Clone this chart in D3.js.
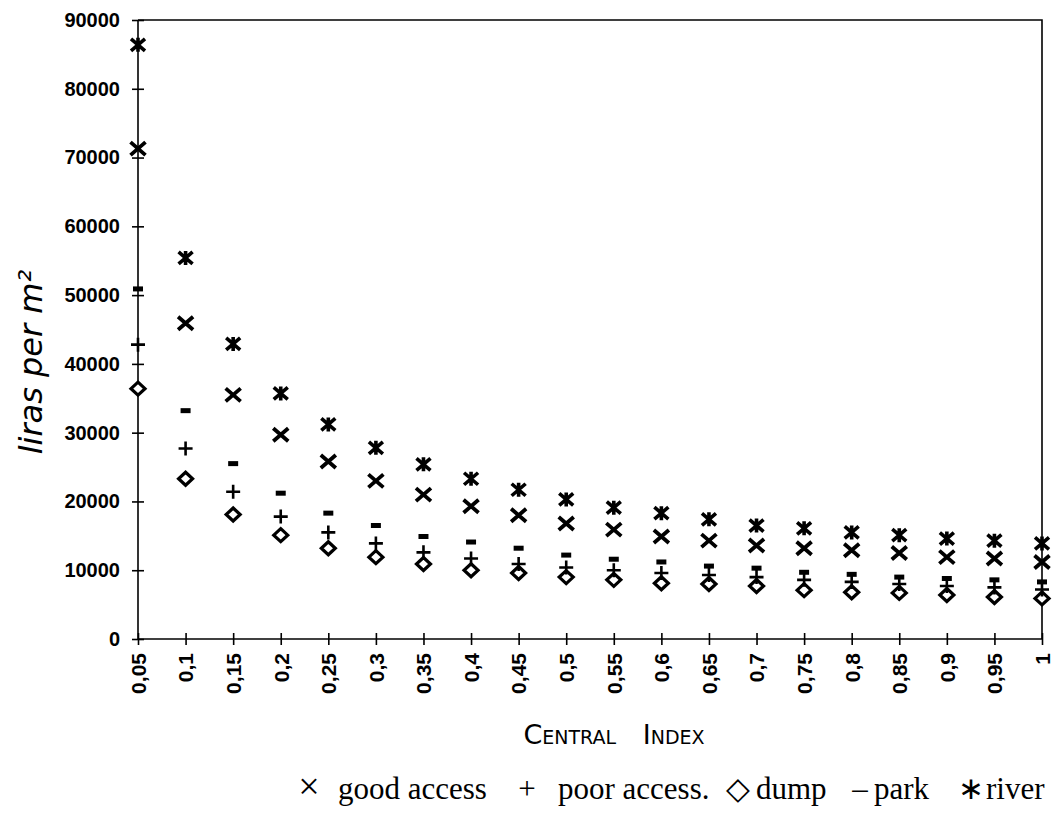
<!DOCTYPE html>
<html>
<head>
<meta charset="utf-8">
<script src="https://cdn.jsdelivr.net/npm/d3@7"></script>
<style>
  body { margin: 0; background: #fff; }
  svg { display: block; }
  .axis text { font-family: "Liberation Sans", Arial, sans-serif; font-weight: bold; font-size: 20px; fill: #000; }
  .axis path, .axis line { stroke: #000; stroke-width: 1.6; }
  .legend text { font-family: "Liberation Serif", "Times New Roman", serif; font-size: 31px; fill: #000; }
</style>
</head>
<body>
<div id="chart"></div>
<script>
// central index categories (x axis)
var categories = ["0,05", "0,1", "0,15", "0,2", "0,25", "0,3", "0,35", "0,4", "0,45", "0,5",
                  "0,55", "0,6", "0,65", "0,7", "0,75", "0,8", "0,85", "0,9", "0,95", "1"];

// liras per m2, one value per category
var goodAccess = [71300, 45900, 35500, 29700, 25800, 23000, 21000, 19300, 18000, 16800,
                  15900, 14900, 14300, 13600, 13200, 12900, 12500, 11900, 11700, 11200];
var poorAccess = [42800, 27700, 21400, 17800, 15500, 13900, 12600, 11700, 10900, 10400,
                  10000, 9600, 9300, 9000, 8600, 8300, 8000, 7700, 7500, 7200];
var dump       = [36400, 23300, 18100, 15100, 13200, 11900, 10900, 10000, 9600, 9000,
                  8600, 8100, 8000, 7700, 7100, 6800, 6700, 6400, 6100, 5900];
var park       = [50900, 33200, 25500, 21200, 18300, 16500, 14900, 14100, 13200, 12200,
                  11600, 11200, 10600, 10300, 9700, 9400, 9000, 8800, 8600, 8300];
var river      = [86400, 55400, 42900, 35700, 31200, 27800, 25400, 23300, 21700, 20300,
                  19100, 18300, 17400, 16500, 16100, 15500, 15100, 14600, 14300, 13900];

var yTicks = [0, 10000, 20000, 30000, 40000, 50000, 60000, 70000, 80000, 90000];

var legendKeys   = ["\u00D7", "+", "\u25C7", "\u2013", "\u2217"];
var legendLabels = ["good access", "poor access.", "dump", "park", "river"];

var width = 1056, height = 816;
var margin = { top: 20, right: 14, bottom: 177, left: 138 };

var svg = d3.select('#chart').append('svg')
    .attr('width', width)
    .attr('height', height);

var x = d3.scalePoint()
    .domain(categories)
    .range([margin.left, width - margin.right]);

var y = d3.scaleLinear()
    .domain([0, 90000])
    .range([height - margin.bottom, margin.top]);

// frame (top and right edges)
svg.append('path')
    .attr('d', `M${x.range()[0]},${y(90000)}H${x.range()[1]}V${y(0)}`)
    .attr('fill', 'none')
    .attr('stroke', '#000')
    .attr('stroke-width', 1.6);

// y axis, ticks cross the line
var yAxis = svg.append('g')
    .attr('class', 'axis')
    .attr('transform', `translate(${margin.left},0)`)
    .call(d3.axisLeft(y).tickValues(yTicks).tickFormat(d3.format('d')).tickSize(6).tickPadding(12));
yAxis.selectAll('.tick line').attr('x2', 6).attr('x1', -6);
yAxis.select('.domain').attr('d', `M0,${y(0)}V${y(90000)}`);

// x axis, labels rotated
var xAxis = svg.append('g')
    .attr('class', 'axis')
    .attr('transform', `translate(0,${y(0)})`)
    .call(d3.axisBottom(x).tickSize(6));
xAxis.selectAll('.tick line').attr('y1', -6).attr('y2', 6);
xAxis.select('.domain').attr('d', `M${x.range()[0]},0H${x.range()[1]}`);
xAxis.selectAll('.tick text')
    .style('font-size', '21px')
    .attr('transform', 'rotate(-90)')
    .attr('text-anchor', 'end')
    .attr('x', -14)
    .attr('y', 0)
    .attr('dy', '0.35em');

// marker shapes
var markers = {
  times: 'M-7.5,-6.5L7.5,6.5M-7.5,6.5L7.5,-6.5',
  star: 'M-7,-6L7,6M-7,6L7,-6M0,-7V7',
  plus: 'M-7,0H7M0,-7V7',
  dash: 'M-5,0H5',
  diamond: 'M0,-6.5L7,0L0,6.5L-7,0Z'
};

var series = [
  { name: 'dump', values: dump, shape: 'diamond', width: 3.2 },
  { name: 'poor access', values: poorAccess, shape: 'plus', width: 2.6 },
  { name: 'park', values: park, shape: 'dash', width: 5 },
  { name: 'good access', values: goodAccess, shape: 'times', width: 3.8 },
  { name: 'river', values: river, shape: 'star', width: 3.6 }
];

var groups = svg.selectAll('g.series')
    .data(series)
  .enter().append('g')
    .attr('class', 'series');

groups.selectAll('path')
    .data((s) => s.values.map((v, i) => ({ cat: categories[i], value: v, s: s })))
  .enter().append('path')
    .attr('transform', (d) => `translate(${x(d.cat)},${y(d.value)})`)
    .attr('d', (d) => markers[d.s.shape])
    .attr('fill', (d) => d.s.shape === 'diamond' ? '#fff' : 'none')
    .attr('stroke', '#000')
    .attr('stroke-width', (d) => d.s.width);

// axis titles (handwritten in the original)
svg.append('text')
    .attr('transform', 'translate(42,362) rotate(-90)')
    .attr('text-anchor', 'middle')
    .style('font-family', '"DejaVu Sans", sans-serif')
    .style('font-style', 'italic')
    .style('font-size', '32px')
    .text('liras per m²');

svg.append('text')
    .attr('x', 614)
    .attr('y', 744)
    .attr('text-anchor', 'middle')
    .style('font-family', '"DejaVu Sans", sans-serif')
    .style('font-variant', 'small-caps')
    .style('font-size', '27px')
    .style('word-spacing', '18px')
    .text('Central Index');

// legend along the bottom
var legendX = [[309, 338], [527, 558], [738, 756], [860, 874], [971, 986]];
var legend = svg.append('g').attr('class', 'legend');

legendLabels.forEach((label, i) => {
  legend.append('text')
      .attr('x', legendX[i][0])
      .attr('y', 799)
      .attr('text-anchor', 'middle')
      .style('font-size', i === 0 ? '38px' : null)
      .text(legendKeys[i]);
  legend.append('text')
      .attr('x', legendX[i][1])
      .attr('y', 799)
      .text(label);
});
</script>
</body>
</html>
